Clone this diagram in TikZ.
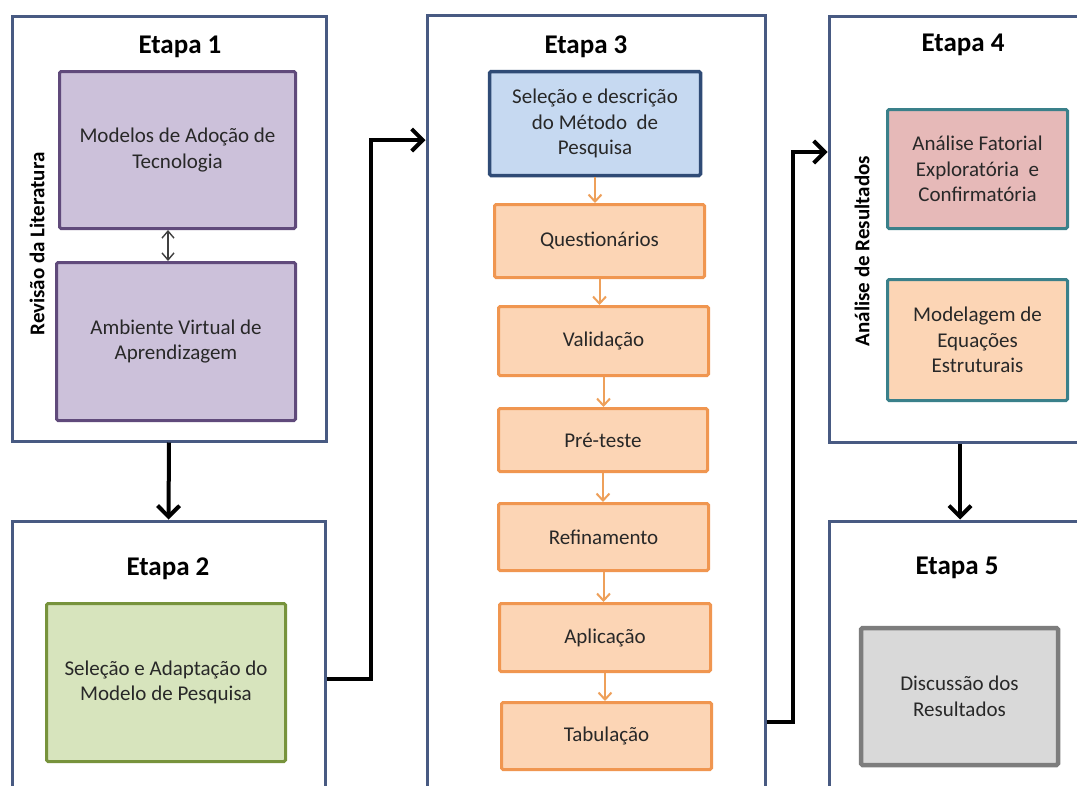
\documentclass[tikz,border=0pt]{standalone}
\usepackage{fontspec}
\setmainfont{Carlito}
\usetikzlibrary{arrows.meta}

\definecolor{stageline}{RGB}{72,90,130}
\definecolor{purplefill}{RGB}{204,193,218}
\definecolor{purpleline}{RGB}{96,74,123}
\definecolor{greenfill}{RGB}{215,228,189}
\definecolor{greenline}{RGB}{119,147,60}
\definecolor{bluefill}{RGB}{198,217,241}
\definecolor{blueline}{RGB}{47,75,118}
\definecolor{orangefill}{RGB}{252,213,181}
\definecolor{orangeline}{RGB}{240,150,80}
\definecolor{orangearrow}{RGB}{238,160,90}
\definecolor{pinkfill}{RGB}{230,185,184}
\definecolor{tealline}{RGB}{58,128,138}
\definecolor{grayfill}{RGB}{217,217,217}
\definecolor{grayline}{RGB}{125,125,125}
\definecolor{textgray}{RGB}{40,40,40}

\tikzset{
  stage/.style={draw=stageline, line width=3pt, fill=white, rectangle, inner sep=0pt},
  stagetitle/.style={font=\fontsize{27}{32}\selectfont\bfseries, text=black},
  sidelabel/.style={font=\fontsize{21}{25}\selectfont\bfseries, rotate=90, text=black},
  box/.style={rectangle, line width=3pt, rounded corners=1.5pt, align=center,
    inner sep=0pt, text=textgray, font=\fontsize{21}{25.5}\selectfont},
  purplebox/.style={box, draw=purpleline, fill=purplefill},
  greenbox/.style={box, draw=greenline, fill=greenfill},
  bluebox/.style={box, draw=blueline, fill=bluefill, line width=3.5pt},
  orangebox/.style={box, draw=orangeline, fill=orangefill},
  pinkbox/.style={box, draw=tealline, fill=pinkfill},
  tealorange/.style={box, draw=tealline, fill=orangefill},
  graybox/.style={box, draw=grayline, fill=grayfill, line width=4.5pt},
  flow/.style={line width=4pt, -{Straight Barb[length=11pt,width=22pt]}},
  substep/.style={line width=2pt, draw=orangearrow, -{Straight Barb[length=7pt,width=13pt]}},
  linkboth/.style={line width=1.4pt, draw=black!75, {Straight Barb[length=7pt,width=12pt]}-{Straight Barb[length=7pt,width=12pt]}}
}

\begin{document}
\begin{tikzpicture}[x=1pt,y=-1pt]
\clip (0,0) rectangle (1077,785);
\fill[white] (0,0) rectangle (1077,785);

% stage frames
\node[stage, minimum width=314pt, minimum height=425pt] (e1) at (169,228.5) {};
\node[stage, minimum width=313pt, minimum height=290pt] (e2) at (168.5,666) {};
\node[stage, minimum width=338pt, minimum height=800pt] (e3) at (596,415) {};
\node[stage, minimum width=262pt, minimum height=426pt] (e4) at (960,229) {};
\node[stage, minimum width=262pt, minimum height=290pt] (e5) at (960,666) {};

% titles and side labels
\node[stagetitle] (t1) at (180,47) {Etapa 1};
\node[stagetitle] (t2) at (168,569) {Etapa 2};
\node[stagetitle] (t3) at (586,47) {Etapa 3};
\node[stagetitle] (t4) at (963,45) {Etapa 4};
\node[stagetitle] (t5) at (957,568) {Etapa 5};
\node[sidelabel] (l1) at (37,244) {Revisão da Literatura};
\node[sidelabel] (l4) at (862,251) {Análise de Resultados};

% Etapa 1
\node[purplebox, minimum width=236pt, minimum height=157pt] (m1) at (177.5,150)
  {Modelos de Adoção de\\Tecnologia};
\node[purplebox, minimum width=239pt, minimum height=158pt] (m2) at (176,341.5)
  {Ambiente Virtual de\\Aprendizagem};
\coordinate (dx) at (168,0);
\draw[linkboth] (m1.south -| dx) -- (m2.north -| dx);

% Etapa 2
\node[greenbox, minimum width=239pt, minimum height=158pt] (g) at (166,682.5)
  {Seleção e Adaptação do\\Modelo de Pesquisa};

% Etapa 3
\node[bluebox, minimum width=211pt, minimum height=104pt] (b) at (595,123.5)
  {Seleção e descrição\\do Método\ \ de\\Pesquisa};
\node[orangebox, minimum width=210pt, minimum height=73pt] (q) at (599.5,241) {Questionários};
\node[orangebox, minimum width=210pt, minimum height=69pt] (v) at (603.5,341) {Validação};
\node[orangebox, minimum width=209pt, minimum height=63pt] (p) at (603,440) {Pré-teste};
\node[orangebox, minimum width=210pt, minimum height=67pt] (r) at (603.5,537) {Refinamento};
\node[orangebox, minimum width=211pt, minimum height=68pt] (a) at (605,637.5) {Aplicação};
\node[orangebox, minimum width=210pt, minimum height=67pt] (tb) at (606.5,736) {Tabulação};
\draw[substep] (b.south) -- (b.south |- q.north);
\draw[substep] (q.south) -- (q.south |- v.north);
\draw[substep] (v.south) -- (v.south |- p.north);
\draw[substep] (p.south) -- (p.south |- r.north);
\draw[substep] (r.south) -- (r.south |- a.north);
\draw[substep] (a.south) -- (a.south |- tb.north);

% Etapa 4
\node[pinkbox, minimum width=180pt, minimum height=119pt] (f) at (977.5,169)
  {Análise Fatorial\\Exploratória\ \ e\\Confirmatória};
\node[tealorange, minimum width=180pt, minimum height=121pt] (s) at (977.5,340)
  {Modelagem de\\Equações\\Estruturais};

% Etapa 5
\node[graybox, minimum width=197pt, minimum height=137pt] (d) at (959.5,696.5)
  {Discussão dos\\Resultados};

% connectors between stages
\coordinate (c2a) at (371,679);
\coordinate (c2b) at (371,140);
\coordinate (c3a) at (793,722);
\coordinate (c3b) at (793,152);
\draw[flow] (e1.south) -- (e2.north);
\draw[flow] (e4.south) -- (e5.north);
\draw[flow] (e2.east |- c2a) -- (c2a) -- (c2b) -- (e3.west |- c2b);
\draw[flow] (e3.east |- c3a) -- (c3a) -- (c3b) -- (e4.west |- c3b);
\end{tikzpicture}
\end{document}
